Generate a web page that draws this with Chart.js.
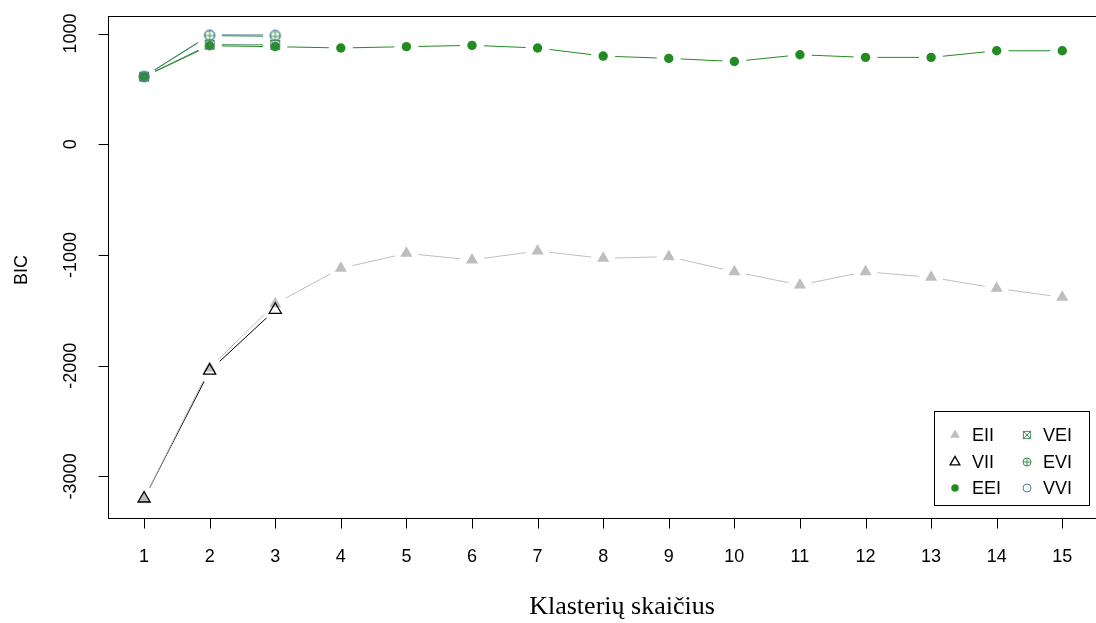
<!DOCTYPE html>
<html><head><meta charset="utf-8">
<script src="https://cdn.jsdelivr.net/npm/chart.js@4.4.0/dist/chart.umd.min.js"></script>
<style>
html,body{margin:0;padding:0;background:#fff;overflow:hidden;width:1096px;height:623px}
#wrap{position:absolute;left:0;top:0;width:1110px;height:623px}
canvas{display:block}
</style></head><body>
<div id="wrap"><canvas id="c" width="1110" height="623"></canvas></div>
<script>
// ---- data ----
const clusters = [1,2,3,4,5,6,7,8,9,10,11,12,13,14,15];
const EII = [-3200,-2020,-1440,-1120,-985,-1045,-964,-1030,-1015,-1151,-1271,-1151,-1202,-1301,-1382];
const VII = [-3200,-2045,-1495];
const EEI = [611,890,882,870,882,894,870,797,776,748,809,785,785,845,845];
const VEI = [611,900,898];
const EVI = [612,982,975];
const VVI = [612,988,988];
const xTicks = [1,2,3,4,5,6,7,8,9,10,11,12,13,14,15];
const yTicks = [-3000,-2000,-1000,0,1000];
const modelNames = ['EII','VII','EEI','VEI','EVI','VVI'];
const xTitle = 'Klasterių skaičius';
const yTitle = 'BIC';

const colors = {EII:'#bebebe', VII:'#000000', EEI:'#228b22', VEI:'#4a8a62', EVI:'#3a9150', VVI:'#5080a6'};
const series = {EII, VII, EEI, VEI, EVI, VVI};
const NM = modelNames.length;

function pts(arr){ return arr.map((v,i)=>({x:clusters[i], y:v})); }

function drawSym(ctx, name, cx, cy, s){
  const c = colors[name];
  ctx.save();
  ctx.lineWidth = 1;
  ctx.strokeStyle = c; ctx.fillStyle = c;
  if(name==='EII' || name==='VII'){
    const r = 7*s;
    ctx.beginPath();
    ctx.moveTo(cx, cy - r);
    ctx.lineTo(cx + r*Math.sin(2*Math.PI/3), cy - r*Math.cos(2*Math.PI/3));
    ctx.lineTo(cx + r*Math.sin(4*Math.PI/3), cy - r*Math.cos(4*Math.PI/3));
    ctx.closePath();
    if(name==='EII') ctx.fill(); else { ctx.lineWidth=1.3; ctx.stroke(); }
  } else if(name==='EEI'){
    ctx.beginPath(); ctx.arc(cx,cy,4.7*s,0,Math.PI*2); ctx.fill();
  } else if(name==='VEI'){
    const h = 4.5*s;
    ctx.strokeRect(cx-h, cy-h, 2*h, 2*h);
    ctx.beginPath();
    ctx.moveTo(cx-h,cy-h); ctx.lineTo(cx+h,cy+h);
    ctx.moveTo(cx+h,cy-h); ctx.lineTo(cx-h,cy+h);
    ctx.stroke();
  } else if(name==='EVI'){
    const r = 5*s;
    ctx.beginPath(); ctx.arc(cx,cy,r,0,Math.PI*2); ctx.stroke();
    ctx.beginPath();
    ctx.moveTo(cx-r,cy); ctx.lineTo(cx+r,cy);
    ctx.moveTo(cx,cy-r); ctx.lineTo(cx,cy+r);
    ctx.stroke();
  } else if(name==='VVI'){
    ctx.beginPath(); ctx.arc(cx,cy,5*s,0,Math.PI*2); ctx.stroke();
  }
  ctx.restore();
}

function symImage(name){
  const cv = document.createElement('canvas');
  cv.width = 16; cv.height = 16;
  drawSym(cv.getContext('2d'), name, 8, 8, 1);
  return cv;
}

const datasets = [];
// indices 0..5: connecting lines
modelNames.forEach(n=>{
  datasets.push({label:'line '+n, data:pts(series[n]), showLine:true, borderColor:colors[n], borderWidth:1, pointRadius:0, tension:0, fill:false});
});
// indices 6..11: markers
modelNames.forEach(n=>{
  const base = {label:n, data:pts(series[n]), showLine:false, pointHoverRadius:0};
  if(n==='EII') Object.assign(base,{pointStyle:'triangle', pointRadius:7, pointBackgroundColor:colors.EII, pointBorderWidth:0, pointBorderColor:colors.EII});
  else if(n==='VII') Object.assign(base,{pointStyle:'triangle', pointRadius:7, pointBackgroundColor:'rgba(0,0,0,0)', pointBorderColor:'#000', pointBorderWidth:1.3});
  else if(n==='EEI') Object.assign(base,{pointStyle:'circle', pointRadius:4.7, pointBackgroundColor:colors.EEI, pointBorderWidth:0, pointBorderColor:colors.EEI});
  else Object.assign(base,{pointStyle:symImage(n), pointRadius:8});
  datasets.push(base);
});

const HALO = 12;        // R type="b": gap around each point
const HALO_COLOR = '#ffffff';

const rBase = {
  id:'rBase',
  afterDraw(chart){
    const {ctx, chartArea:a, scales:{x,y}} = chart;
    ctx.save();
    ctx.fillStyle = HALO_COLOR;
    modelNames.forEach(n=>{
      series[n].forEach((v,i)=>{
        const px = x.getPixelForValue(clusters[i]), py = y.getPixelForValue(v);
        ctx.beginPath(); ctx.arc(px, py, HALO, 0, Math.PI*2); ctx.closePath(); ctx.fill();
      });
    });
    // markers re-drawn on top, later models over earlier ones
    for(let k=0;k<NM;k++){
      const meta = chart.getDatasetMeta(NM+k);
      meta.data.forEach(el=>{ el.draw(ctx, a); });
    }
    // box, ticks, labels
    ctx.strokeStyle = '#000'; ctx.lineWidth = 1;
    ctx.strokeRect(Math.round(a.left)+0.5, Math.round(a.top)+0.5, Math.round(a.right-a.left), Math.round(a.bottom-a.top));
    ctx.beginPath();
    xTicks.forEach(v=>{ const px = Math.round(x.getPixelForValue(v))+0.5; ctx.moveTo(px, a.bottom+0.5); ctx.lineTo(px, a.bottom+10.5); });
    yTicks.forEach(v=>{ const py = Math.round(y.getPixelForValue(v))+0.5; ctx.moveTo(a.left+0.5, py); ctx.lineTo(a.left-9.5, py); });
    ctx.stroke();
    ctx.fillStyle = '#000';
    ctx.font = '18px "Liberation Sans", Arial, sans-serif';
    ctx.textAlign = 'center'; ctx.textBaseline = 'middle';
    xTicks.forEach(v=>ctx.fillText(String(v), x.getPixelForValue(v), 557));
    yTicks.forEach(v=>{ ctx.save(); ctx.translate(71, y.getPixelForValue(v)); ctx.rotate(-Math.PI/2); ctx.fillText(String(v),0,0); ctx.restore(); });
    ctx.save(); ctx.translate(22, (a.top+a.bottom)/2+3); ctx.rotate(-Math.PI/2); ctx.fillText(yTitle,0,0); ctx.restore();
    ctx.font = '26px "Liberation Serif", "Times New Roman", serif';
    ctx.fillText(xTitle, 622, 607);
    // legend
    const W = 155, H = 94;
    const L = a.right - 10 - W, T = a.bottom - 13 - H;
    ctx.fillStyle = '#fff'; ctx.fillRect(L, T, W, H);
    ctx.strokeStyle = '#000'; ctx.lineWidth = 1;
    ctx.strokeRect(Math.round(L)+0.5, Math.round(T)+0.5, W, H);
    ctx.font = '18px "Liberation Sans", Arial, sans-serif';
    ctx.textAlign = 'left';
    const rows = [24, 51, 77];
    modelNames.forEach((n,i)=>{
      const col = Math.floor(i/3), row = i%3;
      const sx = L + (col===0 ? 21 : 93), tx = L + (col===0 ? 38 : 109);
      drawSym(ctx, n, sx, T + rows[row], 0.8);
      ctx.fillStyle = '#000';
      ctx.fillText(n, tx, T + rows[row] + 1);
    });
    ctx.restore();
  }
};

new Chart(document.getElementById('c'), {
  type:'scatter',
  data:{datasets},
  options:{
    responsive:false, animation:false, devicePixelRatio:1,
    layout:{padding:{left:108, top:16, right:11, bottom:105}},
    plugins:{legend:{display:false}, tooltip:{enabled:false}},
    events:[],
    scales:{
      x:{type:'linear', min:0.45, max:15.56, display:false},
      y:{type:'linear', min:-3376, max:1159, display:false}
    }
  },
  plugins:[rBase]
});
</script>
</body></html>
